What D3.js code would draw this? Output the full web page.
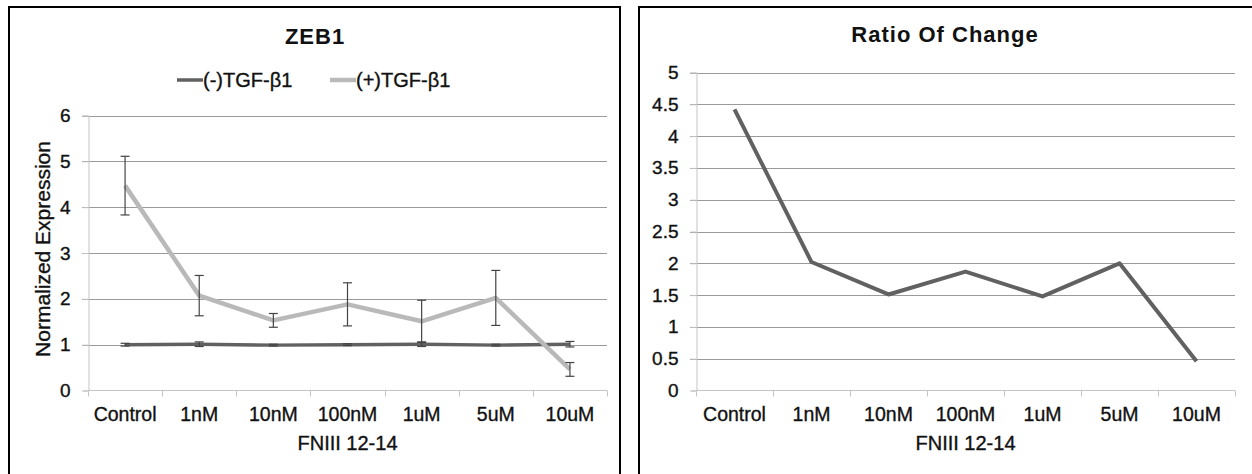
<!DOCTYPE html>
<html>
<head>
<meta charset="utf-8">
<script src="https://cdn.jsdelivr.net/npm/d3@7"></script>
<style>
	body { margin: 0; background: #fff; }
	text { font-family: "Liberation Sans", Arial, sans-serif; fill: #111; stroke: #111; stroke-width: 0.35px; }
</style>
</head>
<body>
<div id="chart"></div>
<script>
	"use strict";

	var categories = ["Control", "1nM", "10nM", "100nM", "1uM", "5uM", "10uM"],
		minusTgf = [1.0, 1.01, 0.99, 1.0, 1.01, 0.99, 1.01],
		minusTgfErr = [0.03, 0.05, 0.02, 0.02, 0.05, 0.02, 0.06],
		plusTgf = [4.47, 2.07, 1.53, 1.88, 1.51, 2.02, 0.46],
		plusTgfErr = [0.64, 0.44, 0.15, 0.47, 0.46, 0.6, 0.15],
		ratio = [4.42, 2.02, 1.51, 1.87, 1.48, 2.0, 0.46],
		zebTicks = [0, 1, 2, 3, 4, 5, 6],
		ratioTicks = [0, 0.5, 1, 1.5, 2, 2.5, 3, 3.5, 4, 4.5, 5];

	var svg = d3.select("#chart").append("svg")
		.attr("width", 1252)
		.attr("height", 474);

	// panel frames
	svg.append("path")
		.attr("d", "M9,480V7H620V480")
		.attr("fill", "none").attr("stroke", "#000").attr("stroke-width", 2);
	svg.append("path")
		.attr("d", "M639,480V7H1260")
		.attr("fill", "none").attr("stroke", "#000").attr("stroke-width", 2);

	function drawFrame(opts) {
		var x = d3.scaleBand().domain(categories).range([opts.left, opts.right]),
			y = d3.scaleLinear().domain([0, opts.yMax]).range([390.5, opts.top]);

		var g = svg.append("g");

		// gridlines
		g.selectAll(".grid")
			.data(opts.ticks.filter(function(d) { return d > 0; }))
			.enter().append("line")
			.attr("x1", opts.left - 6).attr("x2", opts.right)
			.attr("y1", function(d) { return Math.round(y(d)) + 0.5; })
			.attr("y2", function(d) { return Math.round(y(d)) + 0.5; })
			.attr("stroke", "#9a9a9a");

		// y axis
		g.append("g")
			.attr("transform", "translate(" + (opts.left + 0.5) + ",0)")
			.call(d3.axisLeft(y).tickValues(opts.ticks).tickSize(6).tickPadding(12)
				.tickFormat(function(d) { return String(d); }))
			.call(function(a) {
				a.attr("font-size", null).attr("font-family", null);
				a.select(".domain").attr("stroke", "#c4c4c4");
				a.selectAll(".tick line").attr("stroke", "#c4c4c4");
				a.selectAll(".tick text").attr("font-size", 19).attr("fill", "#111");
			});

		// x axis line + tick marks at band edges
		g.append("line")
			.attr("x1", opts.left).attr("x2", opts.right)
			.attr("y1", 390.5).attr("y2", 390.5)
			.attr("stroke", "#c4c4c4");
		var edges = categories.map(function(c) { return x(c); }).concat([opts.right]);
		g.selectAll(".xtick")
			.data(edges)
			.enter().append("line")
			.attr("x1", function(d) { return Math.round(d) + 0.5; })
			.attr("x2", function(d) { return Math.round(d) + 0.5; })
			.attr("y1", 390.5).attr("y2", 396.5)
			.attr("stroke", "#c4c4c4");
		g.selectAll(".xlabel")
			.data(categories)
			.enter().append("text")
			.attr("x", function(d) { return x(d) + x.bandwidth() / 2; })
			.attr("y", 421)
			.attr("text-anchor", "middle")
			.attr("font-size", 19.5)
			.text(function(d) { return d; });

		g.append("text")
			.attr("x", (opts.left + opts.right) / 2)
			.attr("y", 450)
			.attr("text-anchor", "middle")
			.attr("font-size", 20)
			.text("FNIII 12-14");

		g.append("text")
			.attr("x", opts.titleX)
			.attr("y", opts.titleY)
			.attr("text-anchor", "middle")
			.attr("font-size", 22)
			.attr("font-weight", "bold")
			.attr("letter-spacing", 1)
			.style("stroke-width", 0)
			.text(opts.title);

		return { x: x, y: y, g: g };
	}

	// ---- ZEB1 ----
	var zeb = drawFrame({ left: 88, right: 607, yMax: 6, top: 115.5, ticks: zebTicks, title: "ZEB1", titleX: 315, titleY: 44 });

	zeb.g.append("text")
		.attr("transform", "translate(50,249) rotate(-90)")
		.attr("text-anchor", "middle")
		.attr("font-size", 21)
		.text("Normalized Expression");

	var series = [
		{ name: "(-)TGF-β1", values: minusTgf, err: minusTgfErr, color: "#616161", width: 3.5 },
		{ name: "(+)TGF-β1", values: plusTgf, err: plusTgfErr, color: "#b9b9b9", width: 4.5 }
	];

	var line = d3.line()
		.x(function(d, i) { return zeb.x(categories[i]) + zeb.x.bandwidth() / 2; })
		.y(function(d) { return zeb.y(d); });

	series.forEach(function(s) {
		zeb.g.append("path")
			.datum(s.values)
			.attr("d", line)
			.attr("fill", "none")
			.attr("stroke", s.color)
			.attr("stroke-width", s.width)
			.attr("stroke-linejoin", "round");
	});

	series.forEach(function(s) {
		var eb = zeb.g.selectAll(null)
			.data(s.values.map(function(v, i) { return { v: v, e: s.err[i], c: categories[i] }; }))
			.enter().append("g")
			.attr("stroke", "#444")
			.attr("stroke-width", 1.2);
		var cx = function(d) { return zeb.x(d.c) + zeb.x.bandwidth() / 2; };
		eb.append("line")
			.attr("x1", cx).attr("x2", cx)
			.attr("y1", function(d) { return zeb.y(d.v + d.e); })
			.attr("y2", function(d) { return zeb.y(d.v - d.e); });
		[1, -1].forEach(function(sign) {
			eb.append("line")
				.attr("x1", function(d) { return cx(d) - 4.5; })
				.attr("x2", function(d) { return cx(d) + 4.5; })
				.attr("y1", function(d) { return zeb.y(d.v + sign * d.e); })
				.attr("y2", function(d) { return zeb.y(d.v + sign * d.e); });
		});
	});

	// legend
	var legendX = [177, 330];
	var legend = zeb.g.selectAll(".legend")
		.data(series)
		.enter().append("g")
		.attr("transform", function(d, i) { return "translate(" + legendX[i] + ",80)"; });
	legend.append("line")
		.attr("x1", 0).attr("x2", 26)
		.attr("stroke", function(d) { return d.color; })
		.attr("stroke-width", function(d) { return d.width; });
	legend.append("text")
		.attr("x", 26)
		.attr("y", 7)
		.attr("font-size", 20)
		.text(function(d) { return d.name; });

	// ---- Ratio Of Change ----
	var rc = drawFrame({ left: 696, right: 1235, yMax: 5, top: 72.5, ticks: ratioTicks, title: "Ratio Of Change", titleX: 945, titleY: 42 });

	var ratioLine = d3.line()
		.x(function(d, i) { return rc.x(categories[i]) + rc.x.bandwidth() / 2; })
		.y(function(d) { return rc.y(d); });

	rc.g.append("path")
		.datum(ratio)
		.attr("d", ratioLine)
		.attr("fill", "none")
		.attr("stroke", "#616161")
		.attr("stroke-width", 4)
		.attr("stroke-linejoin", "round");
</script>
</body>
</html>
